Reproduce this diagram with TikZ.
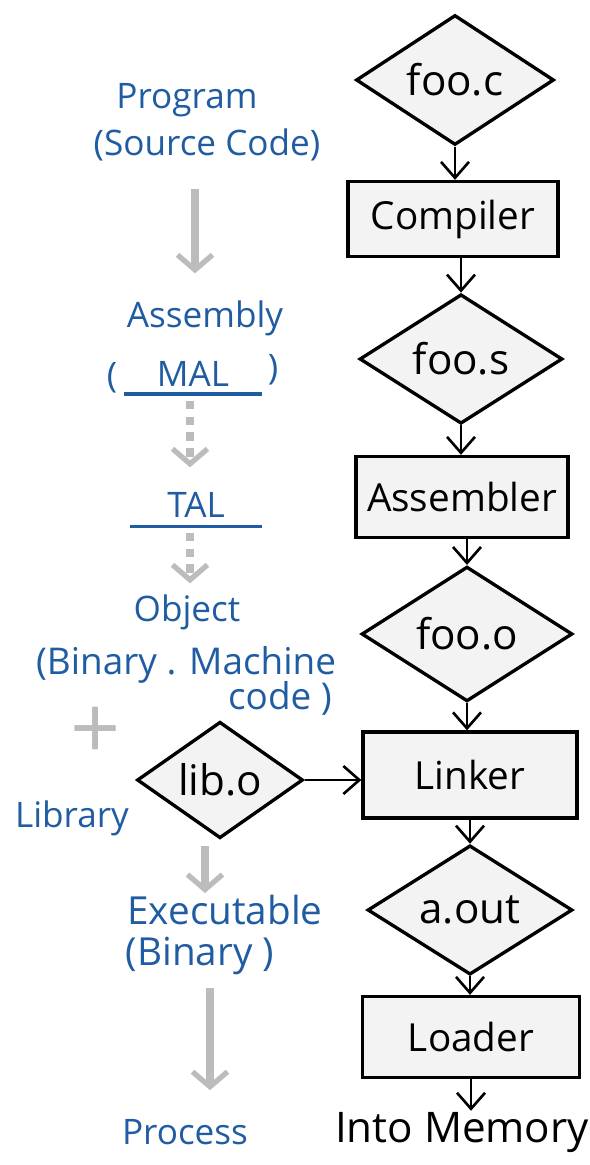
\documentclass[tikz,border=0pt]{standalone}
\usepackage{fontspec}
\setmainfont{Open Sans}
\usetikzlibrary{shapes.geometric,arrows.meta,positioning}

\definecolor{ink}{RGB}{32,92,162}
\definecolor{pencil}{RGB}{188,188,188}
\definecolor{paper}{RGB}{243,243,243}

\tikzset{
  file/.style={draw,line width=1.9pt,fill=paper,diamond,inner sep=0pt,font=\fontsize{24}{26}\selectfont},
  tool/.style={draw,line width=1.9pt,fill=paper,rectangle,minimum width=4.24cm,minimum height=1.62cm,font=\fontsize{22}{24}\selectfont},
  flow/.style={line width=1.5pt,-{Straight Barb[length=3.2mm,width=5.6mm]}},
  stage/.style={text=ink,inner sep=1pt,font=\fontsize{20}{22}\selectfont},
  hint/.style={pencil,line width=4.5pt,-{Straight Barb[length=3mm,width=7mm,line width=3pt]}},
  gap/.style={dash pattern=on 5pt off 4pt},
}

\begin{document}
\begin{tikzpicture}[x=0.02cm,y=-0.02cm]
\useasboundingbox (0,0) rectangle (590,1165);

% tool chain, right column
\node[file,minimum width=3.96cm,minimum height=2.6cm] (fooc) at (455,80) {foo.c};
\node[tool,minimum width=4.2cm,minimum height=1.5cm] (compiler) at (453,219) {Compiler};
\node[file,minimum width=4.06cm,minimum height=2.56cm] (foos) at (461,359) {foo.s};
\node[tool] (assembler) at (462,497) {Assembler};
\node[file,minimum width=4.22cm,minimum height=2.34cm] (fooo) at (467,634) {foo.o};
\node[tool,minimum width=4.28cm,minimum height=1.72cm] (linker) at (470,775) {Linker};
\node[file,minimum width=3.32cm,minimum height=2.2cm] (libo) at (220,780) {lib.o};
\node[file,minimum width=4.1cm,minimum height=2.04cm] (aout) at (470,910) {a.out};
\node[tool,minimum width=4.34cm] (loader) at (471,1037) {Loader};
\node[font=\fontsize{24}{26}\selectfont,inner sep=1pt] (memory) at (462,1133) {Into Memory};

\draw[flow] (fooc.south) -- (compiler.north -| fooc.south);
\draw[flow] (compiler.south -| foos.north) -- (foos.north);
\draw[flow] (foos.south) -- (assembler.north -| foos.south);
\draw[flow] (assembler.south -| fooo.north) -- (fooo.north);
\draw[flow] (fooo.south) -- (linker.north -| fooo.south);
\draw[flow] (libo.east) -- (libo.east -| linker.west);
\draw[flow] (linker.south -| aout.north) -- (aout.north);
\draw[flow] (aout.south) -- (loader.north -| aout.south);
\draw[flow] (loader.south) -- (memory.north -| loader.south);

% stages, left column
\node[stage] (program) at (187,100) {Program};
\node[stage] (source) at (207,145) {(Source Code)};
\node[stage] (assembly) at (205,318) {Assembly};
\node[stage,minimum width=2.74cm] (mal) at (193,374) {MAL};
\node[stage] (malopen) at (112,378) {(};
\node[stage] (malclose) at (273,370) {)};
\node[stage,minimum width=2.64cm] (tal) at (196,505) {TAL};
\node[stage] (object) at (187,612) {Object};
\node[stage,font=\fontsize{21}{23}\selectfont] (binmach) at (186,665) {(Binary . Machine};
\node[stage,font=\fontsize{21}{23}\selectfont] (code) at (280,698) {code )};
\node[text=pencil,font=\fontsize{50}{50}\selectfont,inner sep=0pt] (plus) at (96,733) {+};
\node[stage] (library) at (72,818) {Library};
\node[stage,font=\fontsize{22}{24}\selectfont] (executable) at (225,910) {Executable};
\node[stage,font=\fontsize{22}{24}\selectfont] (binary) at (200,956) {(Binary )};
\node[stage] (process) at (185,1132) {Process};

\draw[ink,line width=2pt] ([yshift=-3pt]mal.south west) -- ([yshift=-3pt]mal.south east);
\draw[ink,line width=2pt] ([yshift=-4pt]tal.south west) -- ([yshift=-4pt]tal.south east);

\draw[hint,shorten <=0.52cm,shorten >=0.5cm] (source.south -| 195,0) -- (assembly.north -| 195,0);
\draw[hint,gap,shorten <=0.24cm,shorten >=0.46cm] (mal.south -| 190,0) -- (tal.north -| 190,0);
\draw[hint,gap,shorten <=0.26cm,shorten >=0.18cm] (tal.south -| 190,0) -- (object.north -| 190,0);
\draw[hint,shorten <=0.12cm] (libo.south -| 205,0) -- (executable.north -| 205,0);
\draw[hint,shorten <=0.22cm,shorten >=0.54cm] (binary.south -| 210,0) -- (process.north -| 210,0);
\end{tikzpicture}
\end{document}
